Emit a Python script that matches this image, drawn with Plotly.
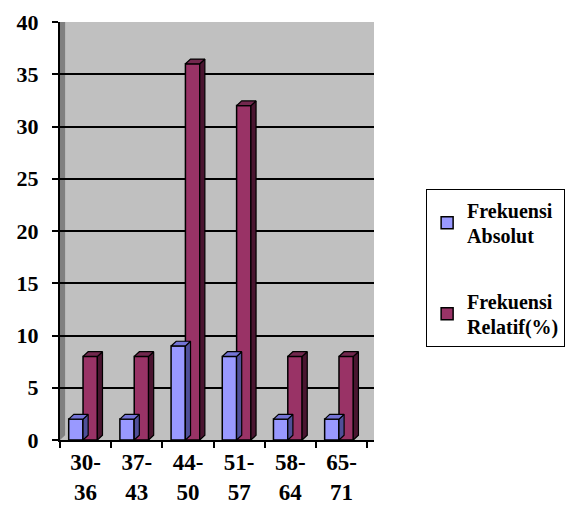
import plotly.graph_objects as go

# Age groups and frequencies
categories = ["30-<br>36", "37-<br>43", "44-<br>50", "51-<br>57", "58-<br>64", "65-<br>71"]
absolut = [2, 2, 9, 8, 2, 2]
relatif = [8, 8, 36, 32, 8, 8]
series_names = ["Frekuensi<br>Absolut", "Frekuensi<br>Relatif(%)"]
y_ticks = [0, 5, 10, 15, 20, 25, 30, 35, 40]

FONT = "Liberation Serif"
BAR_W = 0.28          # bar width in category units
OFFSETS = [-0.33, -0.05]
DX, DY = 0.10, 0.45   # pseudo-3D depth (x in category units, y in value units)

front = ["#9999FF", "#993366"]
top = ["#7474D6", "#72284E"]
side = ["#4F4F99", "#4A1530"]

fig = go.Figure()

# back wall shading on the left side
fig.add_shape(type="path", xref="x", yref="y",
              path=f"M -0.5 0 L -0.5 40 L {-0.5 + DX} {40 + DY} L {-0.5 + DX} {DY} Z",
              fillcolor="#808080", line=dict(width=0), layer="below")

xs = list(range(len(categories)))
for k, (vals, name) in enumerate([(absolut, series_names[0]), (relatif, series_names[1])]):
    fig.add_trace(go.Bar(
        x=xs, y=vals, name=name, width=BAR_W, offset=OFFSETS[k],
        marker=dict(color=front[k], line=dict(color="black", width=1.5)),
        legendgroup=f"g{k}",
    ))

# side and top faces for the depth effect
for k, vals in enumerate([absolut, relatif]):
    for i, v in enumerate(vals):
        x0 = i + OFFSETS[k]
        x1 = x0 + BAR_W
        fig.add_trace(go.Scatter(
            x=[x1, x1 + DX, x1 + DX, x1, x1], y=[0, DY, v + DY, v, 0],
            mode="lines", fill="toself", fillcolor=side[k],
            line=dict(color="black", width=1.2), showlegend=False, hoverinfo="skip"))
        fig.add_trace(go.Scatter(
            x=[x0, x0 + DX, x1 + DX, x1, x0], y=[v, v + DY, v + DY, v, v],
            mode="lines", fill="toself", fillcolor=top[k],
            line=dict(color="black", width=1.2), showlegend=False, hoverinfo="skip"))

fig.update_layout(
    width=577, height=507,
    margin=dict(l=60, r=197, t=22, b=67),
    paper_bgcolor="white",
    plot_bgcolor="#C0C0C0",
    font=dict(family=FONT, size=20, color="black"),
    showlegend=True,
    legend=dict(
        x=1.166, xanchor="left", y=0.60, yanchor="top",
        bordercolor="black", borderwidth=1, bgcolor="white",
        font=dict(family=FONT, size=20, color="black", weight="bold"),
        tracegroupgap=36, traceorder="grouped",
        itemwidth=30,
    ),
    xaxis=dict(
        range=[-0.5, 5.634], tickvals=xs, ticktext=categories,
        ticks="", showgrid=False, zeroline=False, automargin=False,
        showline=True, linecolor="black", linewidth=2,
        tickfont=dict(family=FONT, size=23, color="black", weight="bold"),
        minor=dict(tick0=-0.5, dtick=1, ticks="outside", ticklen=6,
                   tickcolor="black", tickwidth=1.5, showgrid=False),
    ),
    yaxis=dict(
        range=[0, 40], tickvals=y_ticks,
        automargin=False,
        ticks="outside", ticklen=6, tickcolor="black", tickwidth=1.5,
        showgrid=True, gridcolor="black", gridwidth=2,
        zeroline=False, showline=True, linecolor="black", linewidth=2,
        tickfont=dict(family=FONT, size=22, color="black", weight="bold"),
        ticklabelstandoff=9,
    ),
)

fig.write_html("out.html")
